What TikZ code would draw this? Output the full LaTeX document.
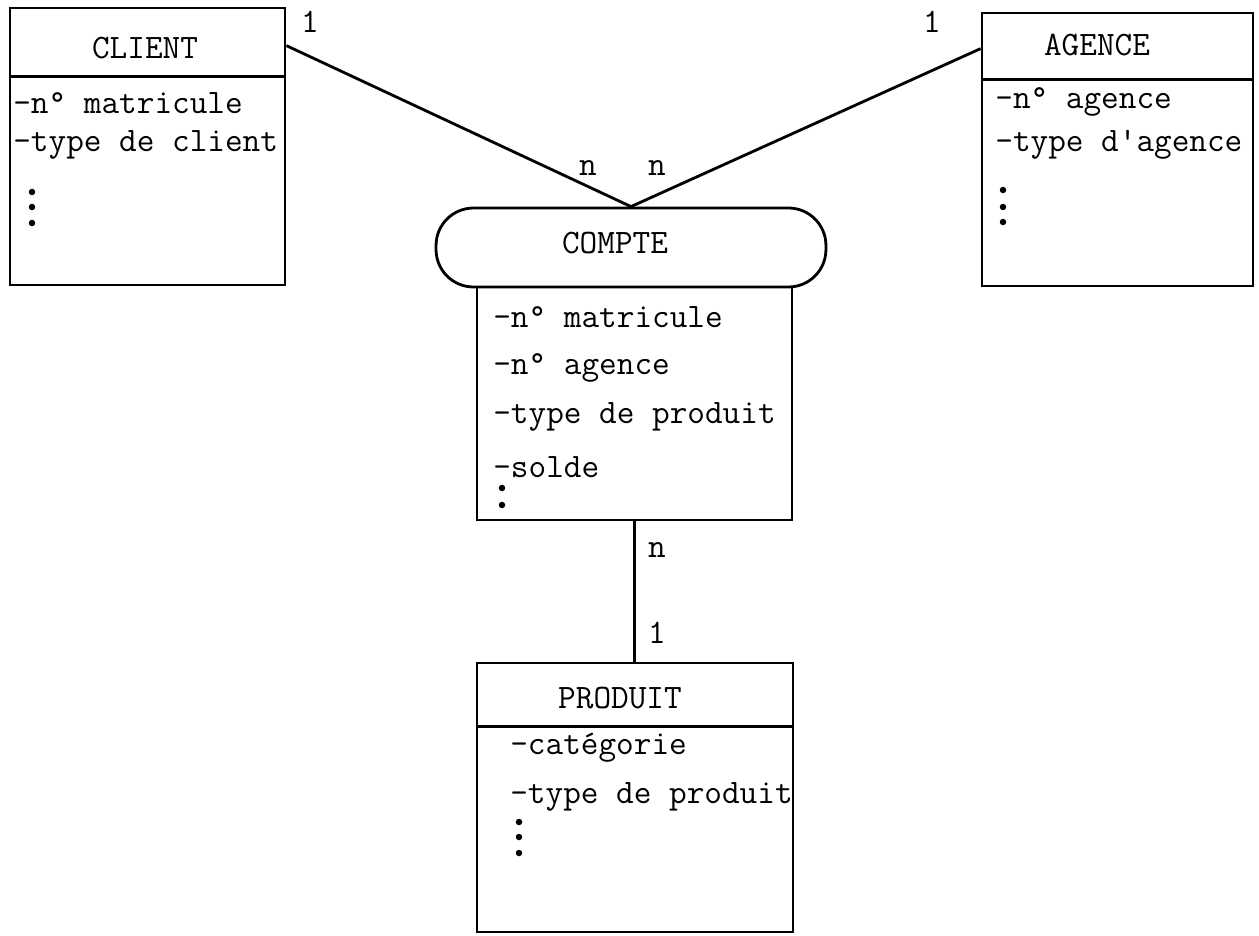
\documentclass[tikz,border=0pt]{standalone}
\usepackage{fontspec}

\begin{document}
\begin{tikzpicture}[x=0.02cm, y=-0.02cm,
    every node/.style={font=\ttfamily\fontsize{19.5}{22}\selectfont},
    entite/.style={draw, line width=1.6pt, inner sep=0pt},
    attr/.style={anchor=west, inner sep=0pt},
    lien/.style={line width=1.6pt}]
    \useasboundingbox (0,0) rectangle (1259,936);

    % --- Entité CLIENT ---
    \node[entite, minimum width=5.5cm, minimum height=5.54cm] (client) at (147.5,146.5) {};
    \draw[lien] ([yshift=-1.4cm]client.north west) -- ([yshift=-1.4cm]client.north east);
    \node (clientnom) at (145,48) {CLIENT};
    \node[attr] (client1) at (13,103) {–n° matricule};
    \node[attr] (client2) at (13,145) {–type de client};
    \foreach \y in {192,207,223} \fill (32,\y) circle (0.065cm);

    % --- Entité AGENCE ---
    \node[entite, minimum width=5.42cm, minimum height=5.46cm] (agence) at (1117.5,149.5) {};
    \draw[lien] ([yshift=-1.36cm]agence.north west) -- ([yshift=-1.36cm]agence.north east);
    \node (agencenom) at (1097,45) {AGENCE};
    \node[attr] (agence1) at (995,102) {–n° agence};
    \node[attr] (agence2) at (995,145) {–type d'agence};
    \foreach \y in {190,207,222} \fill (1003,\y) circle (0.065cm);

    % --- Association COMPTE ---
    \node[entite, minimum width=6.3cm, minimum height=4.66cm] (comptecorps) at (634.5,403.5) {};
    \node[entite, fill=white, rounded corners=0.75cm, minimum width=7.8cm, minimum height=1.58cm] (compte) at (631,247.5) {};
    \node (comptenom) at (615,243) {COMPTE};
    \node[attr] (compte1) at (493,317) {–n° matricule};
    \node[attr] (compte2) at (493,368) {–n° agence};
    \node[attr] (compte3) at (493,417) {–type de produit};
    \node[attr] (compte4) at (493,467) {–solde};
    \foreach \y in {488,505} \fill (502,\y) circle (0.065cm);

    % --- Entité PRODUIT ---
    \node[entite, minimum width=6.32cm, minimum height=5.38cm] (produit) at (635,797.5) {};
    \draw[lien] ([yshift=-1.3cm]produit.north west) -- ([yshift=-1.3cm]produit.north east);
    \node (produitnom) at (620,698) {PRODUIT};
    \node[attr] (produit1) at (510,748) {–catégorie};
    \node[attr] (produit2) at (510,797) {–type de produit};
    \foreach \y in {822,837,853} \fill (519,\y) circle (0.065cm);

    % --- Liens ---
    \draw[lien] ([yshift=-0.78cm]client.north east) -- (compte.north);
    \draw[lien] ([yshift=-0.74cm]agence.north west) -- (compte.north);
    \draw[lien] (comptecorps.south) -- (comptecorps.south |- produit.north);

    % --- Cardinalités ---
    \node (cardclient) at (310,22) {1};
    \node (cardagence) at (932,22) {1};
    \node (cardcompteg) at (588,168) {n};
    \node (cardcompted) at (657,168) {n};
    \node (cardcomptebas) at (657,550) {n};
    \node (cardproduit) at (657,633) {1};
\end{tikzpicture}
\end{document}
